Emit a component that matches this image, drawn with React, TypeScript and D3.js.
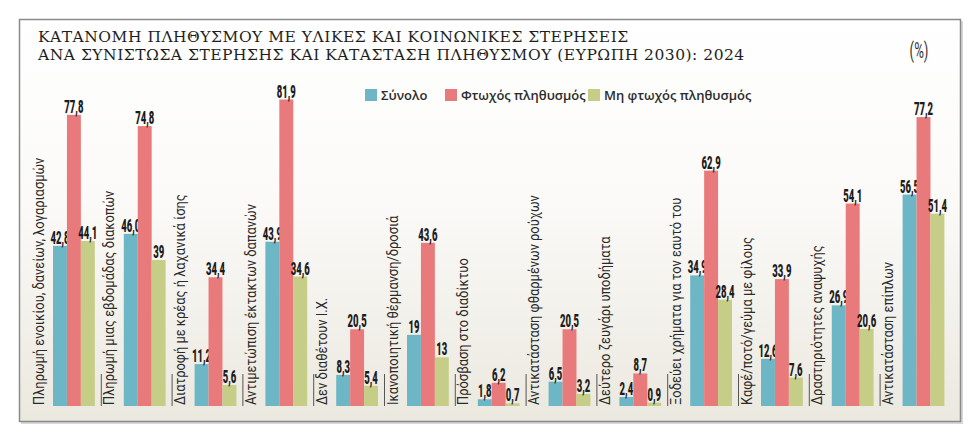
import * as d3 from 'd3';

const W = 980;
const H = 442;

const categories = [
  'Πληρωμή ενοικίου, δανείων, λογαριασμών',
  'Πληρωμή μιας εβδομάδας διακοπών',
  'Διατροφή με κρέας ή λαχανικά ίσης',
  'Αντιμετώπιση έκτακτων δαπανών',
  'Δεν διαθέτουν Ι.Χ.',
  'Ικανοποιητική θέρμανση/δροσιά',
  'Πρόσβαση στο διαδίκτυο',
  'Αντικατάσταση φθαρμένων ρούχων',
  'Δεύτερο ζευγάρι υποδήματα',
  'Ξοδεύει χρήματα για τον εαυτό του',
  'Καφέ/ποτό/γεύμα με φίλους',
  'Δραστηριότητες αναψυχής',
  'Αντικατάσταση επίπλων',
];

const seriesNames = ['Σύνολο', 'Φτωχός πληθυσμός', 'Μη φτωχός πληθυσμός'];
const seriesColors = ['#6db6c6', '#e97a7b', '#c5cd87'];

const total = [42.8, 46.0, 11.2, 43.9, 8.3, 19, 1.8, 6.5, 2.4, 34.9, 12.6, 26.9, 56.5];
const poor = [77.8, 74.8, 34.4, 81.9, 20.5, 43.6, 6.2, 20.5, 8.7, 62.9, 33.9, 54.1, 77.2];
const nonPoor = [44.1, 39, 5.6, 34.6, 5.4, 13, 0.7, 3.2, 0.9, 28.4, 7.6, 20.6, 51.4];

const valueLabels = [
  ['42,8', '46,0', '11,2', '43,9', '8,3', '19', '1,8', '6,5', '2,4', '34,9', '12,6', '26,9', '56,5'],
  ['77,8', '74,8', '34,4', '81,9', '20,5', '43,6', '6,2', '20,5', '8,7', '62,9', '33,9', '54,1', '77,2'],
  ['44,1', '39', '5,6', '34,6', '5,4', '13', '0,7', '3,2', '0,9', '28,4', '7,6', '20,6', '51,4'],
];

const titleLines = [
  'ΚΑΤΑΝΟΜΗ ΠΛΗΘΥΣΜΟΥ ΜΕ ΥΛΙΚΕΣ ΚΑΙ ΚΟΙΝΩΝΙΚΕΣ ΣΤΕΡΗΣΕΙΣ',
  'ΑΝΑ ΣΥΝΙΣΤΩΣΑ ΣΤΕΡΗΣΗΣ ΚΑΙ ΚΑΤΑΣΤΑΣΗ ΠΛΗΘΥΣΜΟΥ (ΕΥΡΩΠΗ 2030): 2024',
];

const legendX = [365, 445, 588];

const BASE = 406;

export default function App() {
  const values = [total, poor, nonPoor];

  const x = d3.scaleBand<string>().domain(categories).range([24, 944.4]).paddingInner(0);
  const xs = d3
    .scaleBand<string>()
    .domain(seriesNames)
    .range([29, x.bandwidth()]);
  const y = d3.scaleLinear().domain([0, 81.9]).range([BASE, BASE - 306.5]);

  const condensed = '"Roboto", "DejaVu Sans", sans-serif';

  return (
    <svg
      width={W}
      height={H}
      style={{ position: 'absolute', left: 0, top: 0, background: '#fff' }}
    >
      <defs>
        <linearGradient id="bg" x1="0" y1="0" x2="0" y2="1">
          <stop offset="0" stopColor="#ffffff" />
          <stop offset="0.45" stopColor="#fbfaf8" />
          <stop offset="1" stopColor="#ebe8df" />
        </linearGradient>
      </defs>

      {/* frame */}
      <rect x={21} y={21} width={942} height={403} fill="#d8d8d8" />
      <rect x={19.5} y={19.5} width={941} height={402} fill="url(#bg)" stroke="#8a8a8a" strokeWidth={1.5} />

      {/* title */}
      {titleLines.map((t, i) => (
        <text
          key={i}
          x={38}
          y={42 + i * 18}
          style={{
            fontFamily: '"DejaVu Serif", "Liberation Serif", serif',
            fontSize: 15.5,
            letterSpacing: 0.5,
            fill: '#1f1f1f',
          }}
        >
          {t}
        </text>
      ))}
      <text
        transform="translate(919,58) scale(0.6,1)"
        textAnchor="middle"
        style={{ fontFamily: condensed, fontSize: 22, fill: '#333' }}
      >
        (%)
      </text>

      {/* legend */}
      {seriesNames.map((s, i) => (
        <g key={s} transform={`translate(${legendX[i]},89)`}>
          <rect width={12} height={12} fill={seriesColors[i]} />
          <text
            x={16}
            y={11}
            style={{ fontFamily: '"Open Sans", sans-serif', fontSize: 13, fontWeight: 600, fill: '#2b2b2b' }}
          >
            {s}
          </text>
        </g>
      ))}

      {/* groups */}
      {categories.map((c, ci) => {
        const bx = x(c)!;
        return (
          <g key={c}>
            {ci > 0 && (
              <line x1={bx + 6.5} x2={bx + 6.5} y1={BASE} y2={BASE - 32} stroke="#555" strokeWidth={1} />
            )}
            <text
              transform={`translate(${bx + 19.5},${BASE - 1}) rotate(-90) scale(0.86,1)`}
              style={{ fontFamily: condensed, fontSize: 15, fill: '#2a2a2a' }}
            >
              {c}
            </text>
            {seriesNames.map((s, si) => {
              const v = values[si][ci];
              const x0 = bx + xs(s)!;
              const w = xs.bandwidth();
              return (
                <g key={s}>
                  <rect x={x0} y={y(v)} width={w} height={BASE - y(v)} fill={seriesColors[si]} />
                  <text
                    transform={`translate(${x0 + w / 2},${y(v) - 2}) scale(0.5,1)`}
                    textAnchor="middle"
                    style={{ fontFamily: condensed, fontSize: 19, fontWeight: 900, fill: '#1c1c1c' }}
                  >
                    {valueLabels[si][ci]}
                  </text>
                </g>
              );
            })}
          </g>
        );
      })}
    </svg>
  );
}
